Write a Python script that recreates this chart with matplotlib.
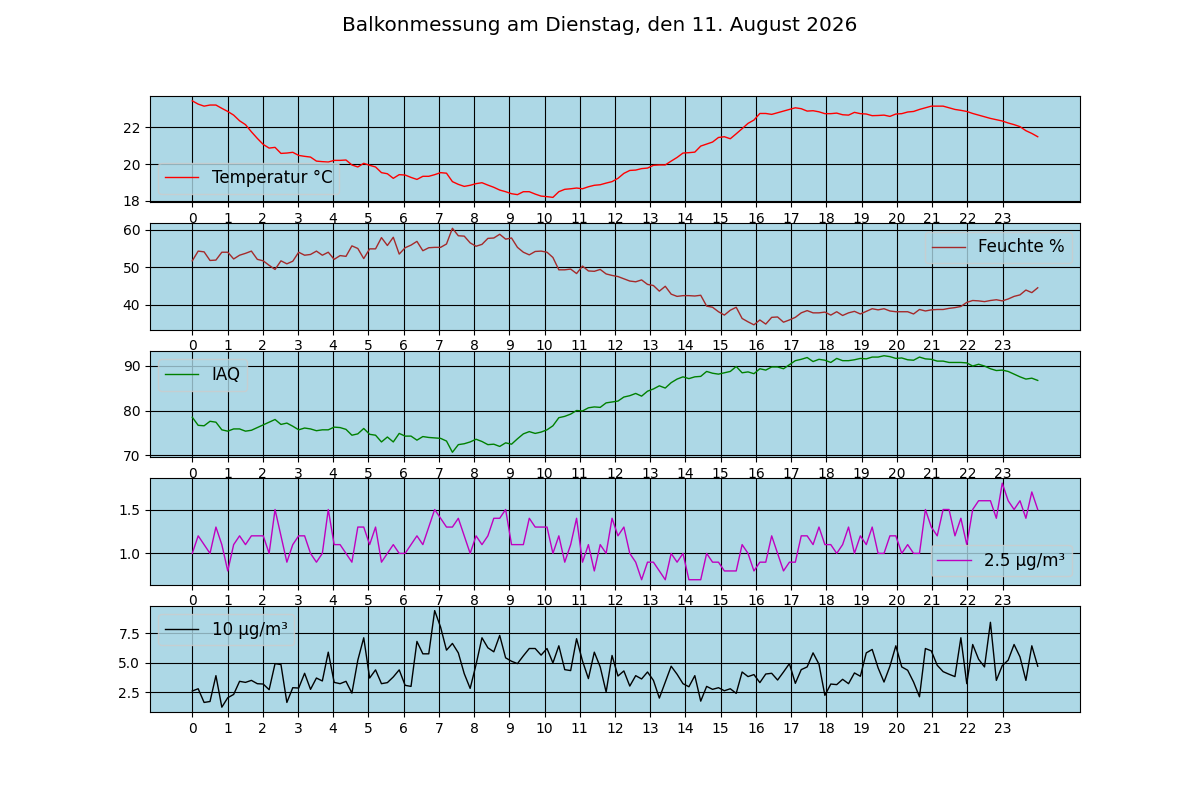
import numpy as np
import matplotlib
matplotlib.use("Agg")
import matplotlib.pyplot as plt

# Messwerte vom Balkon, ein Wert etwa alle 10 Minuten
temperatur = [
    23.45, 23.27, 23.16, 23.22, 23.22, 23.04,
    22.87, 22.67, 22.36, 22.15, 21.76, 21.40,
    21.07, 20.87, 20.91, 20.58, 20.60, 20.64,
    20.47, 20.42, 20.38, 20.16, 20.13, 20.11,
    20.20, 20.20, 20.22, 19.95, 19.84, 20.04,
    19.93, 19.84, 19.53, 19.47, 19.22, 19.42,
    19.40, 19.27, 19.16, 19.33, 19.33, 19.42,
    19.53, 19.50, 19.04, 18.89, 18.78, 18.84,
    18.93, 18.98, 18.85, 18.73, 18.58, 18.49,
    18.38, 18.33, 18.49, 18.49, 18.36, 18.25,
    18.22, 18.18, 18.49, 18.62, 18.65, 18.69,
    18.65, 18.76, 18.84, 18.87, 18.96, 19.04,
    19.22, 19.49, 19.65, 19.67, 19.75,
    19.78, 19.93, 19.95, 19.95, 20.16, 20.36,
    20.60, 20.62, 20.65, 20.98, 21.09, 21.20,
    21.45, 21.49, 21.38, 21.65, 21.93, 22.22,
    22.40, 22.76, 22.76, 22.71, 22.80, 22.89,
    22.98, 23.07, 23.02, 22.89, 22.91, 22.85,
    22.75, 22.75, 22.78, 22.69, 22.67, 22.82,
    22.75, 22.73, 22.64, 22.65, 22.67, 22.60,
    22.73, 22.75, 22.84, 22.87, 22.98, 23.07,
    23.16, 23.16, 23.16, 23.07, 22.98, 22.93,
    22.87, 22.76, 22.67, 22.58, 22.49, 22.42,
    22.35, 22.24, 22.15, 22.04, 21.82, 21.67,
    21.49,
]

feuchte = [
    51.7, 54.3, 54.1, 51.8, 51.9, 54.0,
    54.0, 52.2, 53.2, 53.7, 54.3, 52.1,
    51.7, 50.5, 49.4, 51.7, 50.9, 51.6,
    54.0, 53.2, 53.4, 54.3, 53.2, 54.0,
    52.1, 53.1, 52.9, 55.7, 55.0, 52.3,
    54.9, 54.9, 57.9, 55.8, 58.0, 53.5,
    55.2, 55.9, 56.9, 54.4, 55.2, 55.3,
    55.3, 56.2, 60.4, 58.4, 58.3, 56.5,
    55.6, 56.1, 57.7, 57.8, 58.8, 57.5,
    57.8, 55.3, 54.0, 53.3, 54.2, 54.3,
    54.0, 52.6, 49.3, 49.3, 49.5, 48.3,
    50.3, 49.0, 48.9, 49.4, 48.2, 47.8,
    47.5, 46.9, 46.3, 46.1, 46.6,
    45.4, 45.1, 43.6, 44.9, 42.8, 42.2,
    42.4, 42.4, 42.3, 42.5, 39.6, 39.3,
    38.1, 37.2, 38.5, 39.3, 36.3, 35.4,
    34.6, 35.9, 34.8, 36.6, 36.7, 35.3,
    35.9, 36.6, 37.8, 38.4, 37.8, 37.8,
    38.0, 37.2, 38.1, 37.1, 37.8, 38.2,
    37.5, 38.2, 38.9, 38.6, 38.9, 38.3,
    38.1, 38.1, 38.1, 37.5, 38.7, 38.3,
    38.6, 38.7, 38.7, 39.0, 39.2, 39.5,
    40.6, 41.1, 41.0, 40.8, 41.1, 41.3,
    41.0, 41.5, 42.2, 42.6, 43.9, 43.2,
    44.5,
]

iaq = [
    78.5, 76.7, 76.6, 77.6, 77.4, 75.7,
    75.4, 75.9, 75.9, 75.4, 75.6, 76.2,
    76.8, 77.4, 78.0, 76.9, 77.2, 76.5,
    75.7, 76.1, 75.9, 75.5, 75.7, 75.7,
    76.3, 76.2, 75.8, 74.5, 74.8, 76.0,
    74.7, 74.5, 73.0, 74.1, 73.0, 74.9,
    74.3, 74.3, 73.4, 74.2, 74.0, 73.9,
    73.8, 73.2, 70.7, 72.4, 72.6, 73.0,
    73.6, 73.1, 72.4, 72.5, 72.0, 72.8,
    72.5, 73.7, 74.8, 75.3, 74.9, 75.2,
    75.7, 76.6, 78.4, 78.7, 79.2, 80.0,
    79.9, 80.6, 80.8, 80.7, 81.7, 81.9,
    82.1, 83.0, 83.3, 83.8, 83.2,
    84.3, 84.8, 85.5, 85.0, 86.2, 87.0,
    87.5, 87.1, 87.5, 87.6, 88.7, 88.3,
    88.1, 88.4, 88.7, 89.8, 88.4, 88.6,
    88.2, 89.3, 89.0, 89.7, 89.7, 89.3,
    90.2, 91.1, 91.4, 91.8, 90.9, 91.4,
    91.2, 90.7, 91.6, 91.1, 91.1, 91.3,
    91.6, 91.5, 91.9, 91.9, 92.2, 92.0,
    91.6, 91.7, 91.3, 91.2, 91.9, 91.5,
    91.4, 91.0, 91.0, 90.7, 90.7, 90.7,
    90.6, 89.9, 90.3, 89.9, 89.3, 88.9,
    89.0, 88.7, 88.1, 87.5, 87.0, 87.2,
    86.7,
]

pm25 = [
    1.0, 1.2, 1.1, 1.0, 1.3, 1.1,
    0.8, 1.1, 1.2, 1.1, 1.2, 1.2,
    1.2, 1.0, 1.5, 1.2, 0.9, 1.1,
    1.2, 1.2, 1.0, 0.9, 1.0, 1.5,
    1.1, 1.1, 1.0, 0.9, 1.3, 1.3,
    1.1, 1.3, 0.9, 1.0, 1.1, 1.0,
    1.0, 1.1, 1.2, 1.1, 1.3, 1.5,
    1.4, 1.3, 1.3, 1.4, 1.2, 1.0,
    1.2, 1.1, 1.2, 1.4, 1.4, 1.5,
    1.1, 1.1, 1.1, 1.4, 1.3, 1.3,
    1.3, 1.0, 1.2, 0.9, 1.1, 1.4,
    0.9, 1.1, 0.8, 1.1, 1.0, 1.4,
    1.2, 1.3, 1.0, 0.9, 0.7, 0.9,
    0.9, 0.8, 0.7, 1.0, 0.9, 1.0,
    0.7, 0.7, 0.7, 1.0, 0.9, 0.9,
    0.8, 0.8, 0.8, 1.1, 1.0, 0.8,
    0.9, 0.9, 1.2, 1.0, 0.8, 0.9,
    0.9, 1.2, 1.2, 1.1, 1.3, 1.1,
    1.1, 1.0, 1.1, 1.3, 1.0, 1.2,
    1.1, 1.3, 1.0, 1.0, 1.2, 1.2,
    1.0, 1.1, 1.0, 1.0, 1.5, 1.3,
    1.2, 1.5, 1.5, 1.2, 1.4, 1.1,
    1.5, 1.6, 1.6, 1.6, 1.4, 1.8,
    1.6, 1.5, 1.6, 1.4, 1.7, 1.5,
]

pm10 = [
    2.59, 2.78, 1.62, 1.70, 3.89, 1.22,
    2.02, 2.30, 3.41, 3.32, 3.49, 3.21,
    3.18, 2.70, 4.91, 4.83, 1.62, 2.87,
    2.84, 4.09, 2.73, 3.69, 3.44, 5.88,
    3.32, 3.21, 3.41, 2.41, 5.20, 7.10,
    3.69, 4.38, 3.21, 3.30, 3.78, 4.38,
    3.07, 2.98, 6.79, 5.74, 5.74, 9.40,
    8.00, 6.05, 6.62, 5.82, 4.06, 2.81,
    4.83, 7.10, 6.25, 5.91, 7.30, 5.40,
    5.11, 4.91, 5.57, 6.19, 6.19, 5.63,
    6.19, 4.97, 6.42, 4.40, 4.32, 7.02,
    5.14, 3.64, 5.88, 4.63, 2.50, 5.60,
    3.86, 4.29, 3.01, 3.89, 3.61, 4.20,
    3.49, 1.99, 3.35, 4.69, 4.01, 3.21,
    2.95, 3.89, 1.73, 2.98, 2.73, 2.87,
    2.61, 2.78, 2.39, 4.20, 3.81, 3.98,
    3.30, 4.03, 4.09, 3.52, 4.20, 4.91,
    3.24, 4.40, 4.63, 5.82, 4.86, 2.22,
    3.18, 3.13, 3.58, 3.21, 4.12, 3.84,
    5.82, 6.11, 4.55, 3.35, 4.69, 6.42,
    4.63, 4.35, 3.35, 2.10, 6.19, 5.99,
    4.77, 4.23, 4.01, 3.81, 7.10, 3.21,
    6.53, 5.28, 4.63, 8.41, 3.49, 4.74,
    5.20, 6.53, 5.48, 3.49, 6.42, 4.69,
]

# Messzeitpunkte in Stunden seit Mitternacht
stunden = np.linspace(0, 24, len(temperatur))

reihen = [
    (temperatur, "Temperatur °C", "red", "lower left"),
    (feuchte, "Feuchte %", "brown", "upper right"),
    (iaq, "IAQ", "green", "upper left"),
    (pm25, "2.5 µg/m³", "m", "lower right"),
    (pm10, "10 µg/m³", "black", "upper left"),
]

fig, axes = plt.subplots(5, 1, figsize=(12, 8), dpi=100)
fig.suptitle("Balkonmessung am Dienstag, den 11. August 2026", fontsize="x-large")

for ax, (werte, name, farbe, ort) in zip(axes, reihen):
    ax.plot(stunden, werte, color=farbe, linewidth=1, label=name)
    ax.set_facecolor("lightblue")
    ax.set_xticks(range(24))
    ax.grid(color="black")
    # Legende mit der Hintergrundfarbe, damit sie kaum auffaellt
    ax.legend(loc=ort, fontsize=12, facecolor="lightblue")

plt.savefig("out.png")
